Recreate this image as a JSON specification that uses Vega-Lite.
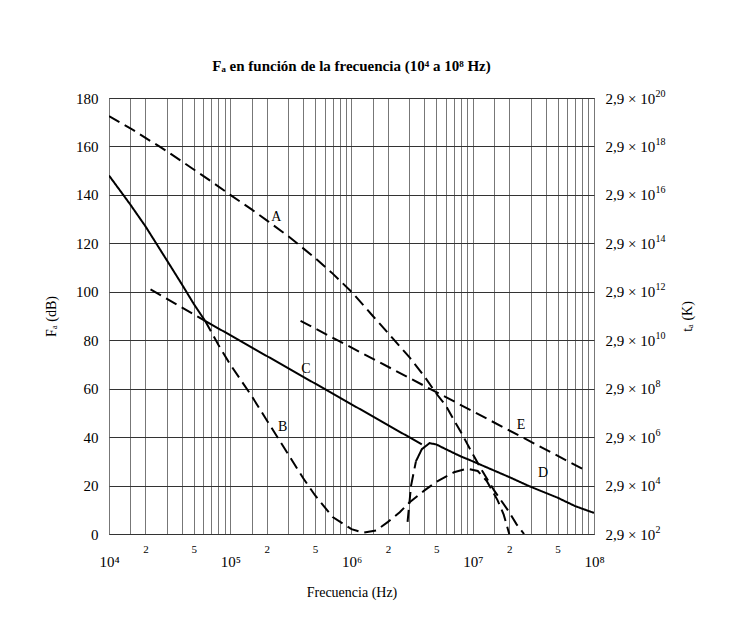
{
  "$schema": "https://vega.github.io/schema/vega-lite/v6.json",
  "width": 485,
  "height": 436,
  "autosize": {"type": "none"},
  "padding": {"left": 109, "top": 98, "right": 136, "bottom": 93},
  "background": "white",
  "title": {"text": "Fₐ en función de la frecuencia (10⁴ a 10⁸ Hz)", "font": "Liberation Serif", "fontSize": 15, "fontWeight": "bold", "offset": 14, "anchor": "middle", "color": "black"},
  "config": {"view": {"stroke": "#333", "strokeWidth": 1}, "font": "Liberation Serif"},
  "datasets": {
    "curves": [
      {"s": "A", "d": "d", "f": 10000, "v": 172.5},
      {"s": "A", "d": "d", "f": 15000, "v": 167.5},
      {"s": "A", "d": "d", "f": 20000, "v": 163.5},
      {"s": "A", "d": "d", "f": 26000, "v": 160},
      {"s": "A", "d": "d", "f": 30000, "v": 158},
      {"s": "A", "d": "d", "f": 50000, "v": 150.5},
      {"s": "A", "d": "d", "f": 70000, "v": 145.5},
      {"s": "A", "d": "d", "f": 100000, "v": 140},
      {"s": "A", "d": "d", "f": 150000, "v": 134},
      {"s": "A", "d": "d", "f": 200000, "v": 129.5},
      {"s": "A", "d": "d", "f": 300000, "v": 123},
      {"s": "A", "d": "d", "f": 500000, "v": 114},
      {"s": "A", "d": "d", "f": 700000, "v": 107.5},
      {"s": "A", "d": "d", "f": 1000000, "v": 100},
      {"s": "A", "d": "d", "f": 1500000, "v": 90},
      {"s": "A", "d": "d", "f": 2000000, "v": 83},
      {"s": "A", "d": "d", "f": 3000000, "v": 73},
      {"s": "A", "d": "d", "f": 4000000, "v": 65},
      {"s": "A", "d": "d", "f": 5000000, "v": 58},
      {"s": "A", "d": "d", "f": 6000000, "v": 53},
      {"s": "A", "d": "d", "f": 7000000, "v": 47},
      {"s": "A", "d": "d", "f": 8000000, "v": 42},
      {"s": "A", "d": "d", "f": 10000000, "v": 33},
      {"s": "A", "d": "d", "f": 12000000, "v": 26},
      {"s": "A", "d": "d", "f": 15000000, "v": 18},
      {"s": "A", "d": "d", "f": 20000000, "v": 9},
      {"s": "A", "d": "d", "f": 23000000, "v": 4},
      {"s": "A", "d": "d", "f": 26500000, "v": 0},
      {"s": "B1", "d": "s", "f": 10000, "v": 148},
      {"s": "B1", "d": "s", "f": 15000, "v": 136},
      {"s": "B1", "d": "s", "f": 20000, "v": 127},
      {"s": "B1", "d": "s", "f": 30000, "v": 113},
      {"s": "B1", "d": "s", "f": 40000, "v": 103},
      {"s": "B1", "d": "s", "f": 50000, "v": 95},
      {"s": "B1", "d": "s", "f": 62000, "v": 88},
      {"s": "B2", "d": "d", "f": 62000, "v": 88},
      {"s": "B2", "d": "d", "f": 80000, "v": 78},
      {"s": "B2", "d": "d", "f": 100000, "v": 70},
      {"s": "B2", "d": "d", "f": 150000, "v": 57},
      {"s": "B2", "d": "d", "f": 200000, "v": 47},
      {"s": "B2", "d": "d", "f": 300000, "v": 33},
      {"s": "B2", "d": "d", "f": 400000, "v": 23},
      {"s": "B2", "d": "d", "f": 500000, "v": 16},
      {"s": "B2", "d": "d", "f": 700000, "v": 7},
      {"s": "B2", "d": "d", "f": 1000000, "v": 2},
      {"s": "B2", "d": "d", "f": 1250000, "v": 0.5},
      {"s": "B2", "d": "d", "f": 1600000, "v": 1.5},
      {"s": "B2", "d": "d", "f": 2000000, "v": 5},
      {"s": "B2", "d": "d", "f": 2500000, "v": 9},
      {"s": "B2", "d": "d", "f": 3000000, "v": 13},
      {"s": "B2", "d": "d", "f": 4000000, "v": 18},
      {"s": "B2", "d": "d", "f": 5000000, "v": 21.5},
      {"s": "B2", "d": "d", "f": 7000000, "v": 25.5},
      {"s": "B2", "d": "d", "f": 9000000, "v": 27},
      {"s": "B2", "d": "d", "f": 11000000, "v": 26},
      {"s": "B2", "d": "d", "f": 13000000, "v": 22},
      {"s": "B2", "d": "d", "f": 16000000, "v": 14},
      {"s": "B2", "d": "d", "f": 18000000, "v": 8},
      {"s": "B2", "d": "d", "f": 20000000, "v": 0},
      {"s": "C1", "d": "d", "f": 22000, "v": 101},
      {"s": "C1", "d": "d", "f": 62000, "v": 88},
      {"s": "C2", "d": "s", "f": 62000, "v": 88},
      {"s": "C2", "d": "s", "f": 3800000, "v": 37},
      {"s": "D1", "d": "d", "f": 2900000, "v": 5},
      {"s": "D1", "d": "d", "f": 3100000, "v": 20},
      {"s": "D1", "d": "d", "f": 3400000, "v": 30},
      {"s": "D2", "d": "s", "f": 3400000, "v": 30},
      {"s": "D2", "d": "s", "f": 3800000, "v": 35},
      {"s": "D2", "d": "s", "f": 4400000, "v": 37.5},
      {"s": "D2", "d": "s", "f": 5000000, "v": 37},
      {"s": "D2", "d": "s", "f": 6000000, "v": 35},
      {"s": "D2", "d": "s", "f": 8000000, "v": 32},
      {"s": "D2", "d": "s", "f": 10000000, "v": 30},
      {"s": "D2", "d": "s", "f": 20000000, "v": 23.5},
      {"s": "D2", "d": "s", "f": 30000000, "v": 19.5},
      {"s": "D2", "d": "s", "f": 50000000, "v": 15},
      {"s": "D2", "d": "s", "f": 70000000, "v": 11.5},
      {"s": "D2", "d": "s", "f": 100000000, "v": 8.7},
      {"s": "E", "d": "d", "f": 380000, "v": 88},
      {"s": "E", "d": "d", "f": 81000000, "v": 26.8}
    ],
    "labels": [
      {"t": "A", "f": 240000, "v": 131},
      {"t": "B", "f": 270000, "v": 44},
      {"t": "C", "f": 420000, "v": 68},
      {"t": "D", "f": 38000000, "v": 25},
      {"t": "E", "f": 25000000, "v": 45}
    ]
  },
  "resolve": {"axis": {"y": "independent"}},
  "layer": [
    {
      "data": {"name": "curves"},
      "mark": {"type": "line", "color": "black", "strokeWidth": 2, "clip": true},
      "encoding": {
        "x": {
          "field": "f", "type": "quantitative",
          "scale": {"type": "log", "domain": [10000, 100000000], "nice": false},
          "axis": {
            "values": [10000, 15000, 20000, 30000, 40000, 50000, 60000, 70000, 80000, 90000,
                       100000, 150000, 200000, 300000, 400000, 500000, 600000, 700000, 800000, 900000,
                       1000000, 1500000, 2000000, 3000000, 4000000, 5000000, 6000000, 7000000, 8000000, 9000000,
                       10000000, 15000000, 20000000, 30000000, 40000000, 50000000, 60000000, 70000000, 80000000, 90000000, 100000000],
            "grid": true, "gridColor": "#777", "gridWidth": 1,
            "domain": false, "ticks": false,
            "labelExpr": "datum.value == 10000 ? '10⁴' : datum.value == 100000 ? '10⁵' : datum.value == 1000000 ? '10⁶' : datum.value == 10000000 ? '10⁷' : datum.value == 100000000 ? '10⁸' : indexof([20000, 200000, 2000000, 20000000], datum.value) >= 0 ? '2' : indexof([50000, 500000, 5000000, 50000000], datum.value) >= 0 ? '5' : ''",
            "labelFontSize": {"condition": {"test": "indexof([10000, 100000, 1000000, 10000000, 100000000], datum.value) >= 0", "value": 15}, "value": 11},
            "labelPadding": {"condition": {"test": "indexof([10000, 100000, 1000000, 10000000, 100000000], datum.value) >= 0", "value": 20}, "value": 9},
            "labelOverlap": false, "labelFlush": false, "labelBound": false,
            "labelColor": "black", "labelFont": "Liberation Serif",
            "title": "Frecuencia (Hz)", "titleFont": "Liberation Serif", "titleFontSize": 14,
            "titleFontWeight": "normal", "titleColor": "black", "titlePadding": 16
          }
        },
        "y": {
          "field": "v", "type": "quantitative",
          "scale": {"domain": [0, 180], "nice": false},
          "axis": {
            "values": [0, 20, 40, 60, 80, 100, 120, 140, 160, 180],
            "grid": true, "gridColor": "#333", "gridWidth": 1,
            "domain": false, "ticks": false,
            "labelFontSize": 15, "labelFont": "Liberation Serif", "labelColor": "black", "labelPadding": 11,
            "title": "Fₐ (dB)", "titleFont": "Liberation Serif", "titleFontSize": 14,
            "titleFontWeight": "normal", "titleColor": "black", "titlePadding": 17
          }
        },
        "detail": {"field": "s"},
        "strokeDash": {"field": "d", "type": "nominal", "scale": {"domain": ["s", "d"], "range": [[1, 0], [12, 6]]}, "legend": null}
      }
    },
    {
      "data": {"name": "labels"},
      "mark": {"type": "text", "font": "Liberation Serif", "fontSize": 14, "color": "black"},
      "encoding": {
        "x": {
          "field": "f", "type": "quantitative",
          "scale": {"type": "log", "domain": [10000, 100000000], "nice": false},
          "axis": {
            "values": [10000, 15000, 20000, 30000, 40000, 50000, 60000, 70000, 80000, 90000,
                       100000, 150000, 200000, 300000, 400000, 500000, 600000, 700000, 800000, 900000,
                       1000000, 1500000, 2000000, 3000000, 4000000, 5000000, 6000000, 7000000, 8000000, 9000000,
                       10000000, 15000000, 20000000, 30000000, 40000000, 50000000, 60000000, 70000000, 80000000, 90000000, 100000000],
            "grid": true, "gridColor": "#777", "gridWidth": 1,
            "domain": false, "ticks": false,
            "labelExpr": "datum.value == 10000 ? '10⁴' : datum.value == 100000 ? '10⁵' : datum.value == 1000000 ? '10⁶' : datum.value == 10000000 ? '10⁷' : datum.value == 100000000 ? '10⁸' : indexof([20000, 200000, 2000000, 20000000], datum.value) >= 0 ? '2' : indexof([50000, 500000, 5000000, 50000000], datum.value) >= 0 ? '5' : ''",
            "labelFontSize": {"condition": {"test": "indexof([10000, 100000, 1000000, 10000000, 100000000], datum.value) >= 0", "value": 15}, "value": 11},
            "labelPadding": {"condition": {"test": "indexof([10000, 100000, 1000000, 10000000, 100000000], datum.value) >= 0", "value": 20}, "value": 9},
            "labelOverlap": false, "labelFlush": false, "labelBound": false,
            "labelColor": "black", "labelFont": "Liberation Serif",
            "title": "Frecuencia (Hz)", "titleFont": "Liberation Serif", "titleFontSize": 14,
            "titleFontWeight": "normal", "titleColor": "black", "titlePadding": 16
          }
        },
        "y": {
          "field": "v", "type": "quantitative",
          "scale": {"domain": [0, 180], "nice": false},
          "axis": {
            "orient": "right",
            "values": [0, 20, 40, 60, 80, 100, 120, 140, 160, 180],
            "grid": false, "domain": false, "ticks": false,
            "labelExpr": "'2,9 × 10'",
            "labelFontSize": 15, "labelFont": "Liberation Serif", "labelColor": "black", "labelPadding": 11,
            "title": "tₐ (K)", "titleFont": "Liberation Serif", "titleFontSize": 14, "titleAngle": 270,
            "titleFontWeight": "normal", "titleColor": "black", "titlePadding": 40
          }
        },
        "text": {"field": "t"}
      }
    },
    {
      "data": {"name": "labels"},
      "mark": {"type": "point", "opacity": 0},
      "encoding": {
        "y": {
          "field": "v", "type": "quantitative",
          "scale": {"domain": [0, 180], "nice": false},
          "axis": {
            "orient": "right",
            "values": [0, 20, 40, 60, 80, 100, 120, 140, 160, 180],
            "grid": false, "domain": false, "ticks": false,
            "labelExpr": "format(datum.value / 10 + 2, 'd')",
            "labelFontSize": 10, "labelFont": "Liberation Serif", "labelColor": "black",
            "labelPadding": 61, "labelOffset": -5, "labelAlign": "left",
            "title": null
          }
        }
      }
    }
  ]
}
